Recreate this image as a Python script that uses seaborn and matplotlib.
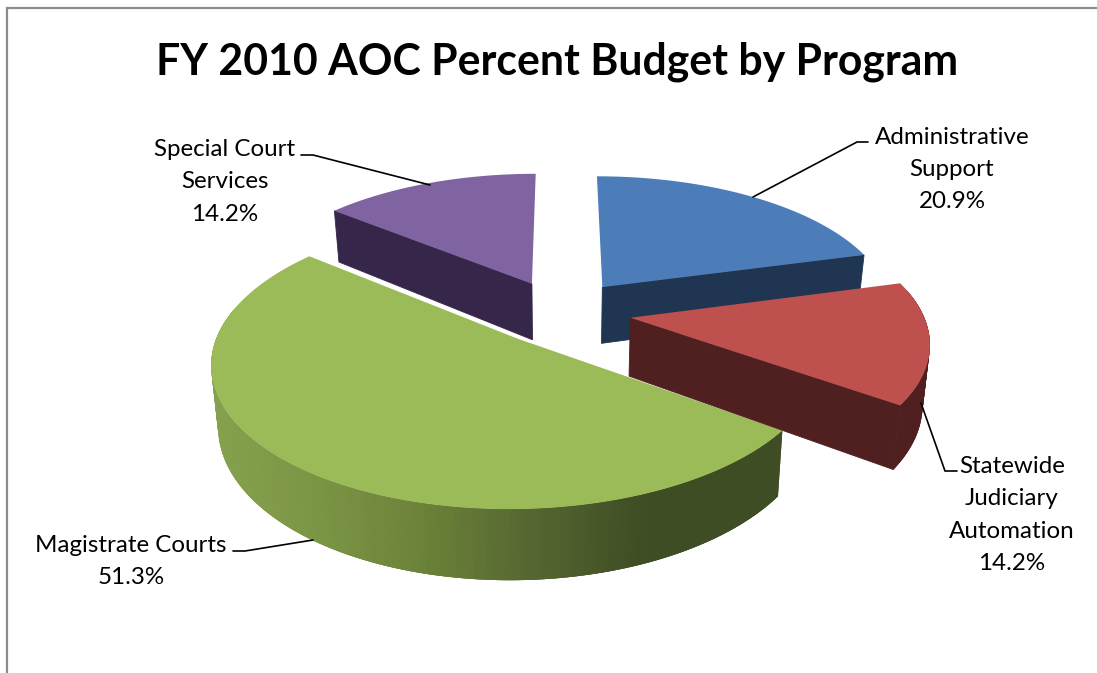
import numpy as np
import matplotlib
matplotlib.use("Agg")
import matplotlib.pyplot as plt
import seaborn as sns

# Budget shares by program, clockwise from twelve o'clock
programs = ["Administrative\nSupport", "Statewide\nJudiciary\nAutomation",
            "Magistrate Courts", "Special Court\nServices"]
percent = [20.9, 14.2, 51.3, 14.2]
title = "FY 2010 AOC Percent Budget by Program"

top_colors = ["#4C7DB9", "#BE504D", "#9BBB59", "#8064A2"]
wall_colors = ["#1F3552", "#4F201F", None, "#35264A"]
green_wall = sns.blend_palette(["#86A14D", "#7A9444", "#6A8038", "#546530", "#3F4D24"], 200)

# Projection of the tilted disc onto the page, in pixels
CX, CY = 561.0, 312.0
RX, RY = 292.0, 135.0
PERSP = 0.155
EXPLODE = 0.24
DEPTH = 58.0
TAPER = 0.02

label_x = [952, 1012, 131, 225]
label_y = [169.5, 515, 561.5, 182]
leaders = [([868, 857, 753], [142, 142, 197]),
           ([957, 945, 921], [471, 471, 403]),
           ([233, 245, 313], [551, 551, 540]),
           ([301, 313, 430], [155, 155, 185])]


def project(u, v, drop=False):
    w = 1.0 - PERSP * v
    x = CX + RX * u / w
    y = CY + RY * v / w
    if drop:
        x = x + (CX - x) * TAPER
        y = y + DEPTH / w
    return x, y


def slice_outline(a0, a1, ox, oy):
    t = np.linspace(a0, a1, max(int(np.degrees(a1 - a0)), 2) + 1)
    return ox + np.sin(t), oy - np.cos(t), t


def rim_color(i, x):
    if wall_colors[i]:
        return wall_colors[i]
    f = np.clip((x - 213) / (640 - 213), 0, 1)
    return green_wall[int(f * (len(green_wall) - 1))]


sns.set_theme(style="white")
plt.rcParams["font.family"] = ["Lato", "DejaVu Sans"]

fig = plt.figure(figsize=(10.97, 6.73), dpi=100, facecolor="white")
ax = fig.add_axes([0, 0, 1, 1])
ax.set_xlim(0, 1097)
ax.set_ylim(673, 0)
ax.axis("off")

# Chart frame: the right and bottom sides fall outside the canvas
ax.plot([6.5, 6.5, 1097], [673, 8, 8], color="#8C8C8C", lw=1.6, solid_joinstyle="miter")

edges = np.radians(np.concatenate([[0], np.cumsum(percent)]) / np.sum(percent) * 360)
mids = (edges[:-1] + edges[1:]) / 2

# Painter's order: back slices first, the red wedge last
for i in [3, 0, 2, 1]:
    ox, oy = EXPLODE * np.sin(mids[i]), -EXPLODE * np.cos(mids[i])
    us, vs, t = slice_outline(edges[i], edges[i + 1], ox, oy)

    # Curved rim; neighbouring strips overlap so no seams show
    x_top, y_top = project(us, vs)
    x_bot, y_bot = project(us, vs, drop=True)
    for j in np.argsort(x_top)[::-1] if i == 2 else range(len(t)):
        k = min(j + 2, len(t) - 1)
        lo = max(j - 1, 0)
        if -np.cos(t[j]) < -0.2:
            continue
        ax.fill([x_top[lo], x_top[k], x_bot[k], x_bot[lo]],
                [y_top[lo], y_top[k], y_bot[k], y_bot[lo]],
                color=rim_color(i, x_top[j]), lw=0)

    # Radial cut faces, only those turned towards the viewer
    for u, v, normal in [(us[0], vs[0], edges[i] - np.pi / 2),
                         (us[-1], vs[-1], edges[i + 1] + np.pi / 2)]:
        if -np.cos(normal) > 0.01:
            xa, ya = project(np.array([ox, u]), np.array([oy, v]))
            xb, yb = project(np.array([u, ox]), np.array([v, oy]), drop=True)
            ax.fill(np.r_[xa, xb], np.r_[ya, yb], color=wall_colors[i], lw=0.6)

    # Top face
    xc, yc = project(np.array([ox]), np.array([oy]))
    ax.fill(np.r_[xc, x_top], np.r_[yc, y_top], color=top_colors[i], lw=0)

# Leader lines and value labels
for i, name in enumerate(programs):
    ax.plot(leaders[i][0], leaders[i][1], color="black", lw=1.2, solid_joinstyle="miter")
    ax.text(label_x[i], label_y[i], f"{name}\n{percent[i]:.1f}%", ha="center", va="center",
            fontsize=17.4, color="black", linespacing=1.67)

ax.set_title(title, fontsize=30.8, fontweight="bold", color="black", x=557.5 / 1097,
             y=1 - 62 / 673, va="center", pad=0)

fig.savefig("out.png", dpi=100, facecolor="white")
